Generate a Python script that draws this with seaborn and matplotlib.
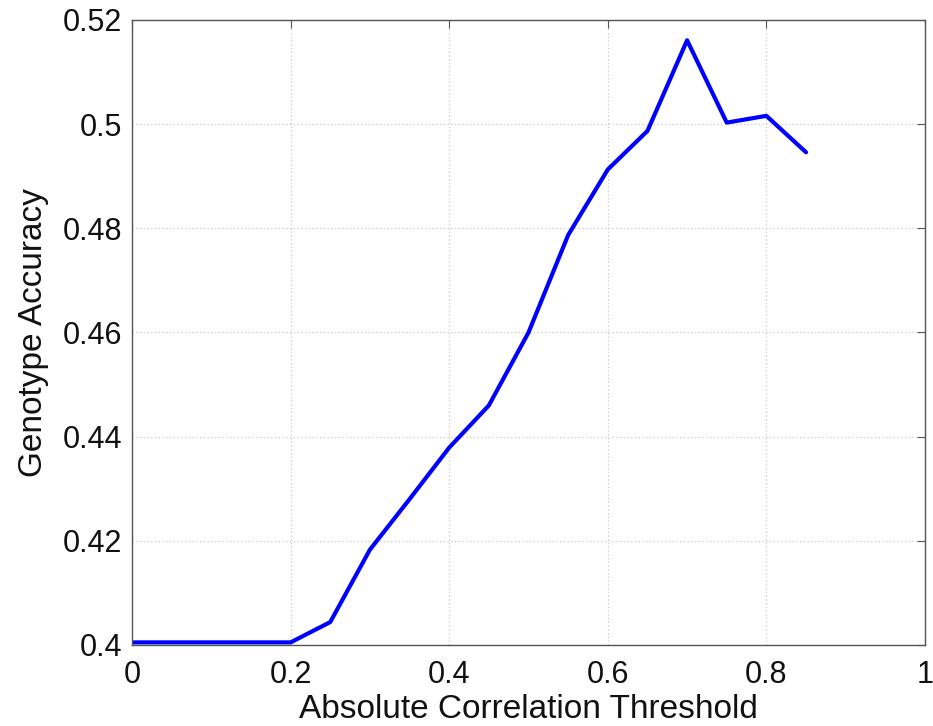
import numpy as np
import pandas as pd
import seaborn as sns
import matplotlib
matplotlib.use("Agg")
import matplotlib.pyplot as plt
from matplotlib.ticker import FuncFormatter

thresholds = [0.0, 0.05, 0.10, 0.15, 0.20, 0.25, 0.30, 0.35, 0.40, 0.45,
              0.50, 0.55, 0.60, 0.65, 0.70, 0.75, 0.80, 0.85]
accuracy = [0.4005, 0.4005, 0.4005, 0.4005, 0.4005, 0.4044, 0.4183, 0.4280,
            0.4379, 0.4460, 0.4600, 0.4787, 0.4913, 0.4987, 0.5161, 0.5003,
            0.5016, 0.4946]
x_ticks = [0, 0.2, 0.4, 0.6, 0.8, 1.0]
y_ticks = [0.40, 0.42, 0.44, 0.46, 0.48, 0.50, 0.52]

sns.set_style("white")
plt.rcParams['font.family'] = ['Liberation Sans', 'DejaVu Sans']

df = pd.DataFrame({"Absolute Correlation Threshold": thresholds,
                   "Genotype Accuracy": accuracy})

fig = plt.figure(figsize=(9.33, 7.26), dpi=100)
ax = fig.add_axes([132/933, 1 - 645/726, (925-132)/933, (645-20)/726])
sns.lineplot(data=df, x="Absolute Correlation Threshold", y="Genotype Accuracy",
             ax=ax, color="#0000ff", linewidth=3.0)

ax.set_xlim(0, 1)
ax.set_ylim(0.4, 0.52)
ax.set_xticks(x_ticks)
ax.set_yticks(y_ticks)
fmt = FuncFormatter(lambda v, p: ("%g" % round(v, 4)))
ax.xaxis.set_major_formatter(fmt)
ax.yaxis.set_major_formatter(fmt)
ax.grid(True, linestyle=(0, (1, 2)), color="#c8c8c8", linewidth=0.9)
ax.set_axisbelow(True)
for s in ax.spines.values():
    s.set_visible(True)
    s.set_color("#555555")
    s.set_linewidth(1.0)
ax.tick_params(axis="both", which="both", direction="in", length=6, width=0.8,
               color="#555555", top=True, right=True, labelsize=22,
               labelcolor="#111111")
ax.tick_params(axis="x", pad=11)
ax.tick_params(axis="y", pad=7)
ax.set_xlabel("Absolute Correlation Threshold", fontsize=24, color="#111111", labelpad=3)
ax.set_ylabel("Genotype Accuracy", fontsize=24, color="#111111", labelpad=10)

fig.savefig("out.png", dpi=100)
